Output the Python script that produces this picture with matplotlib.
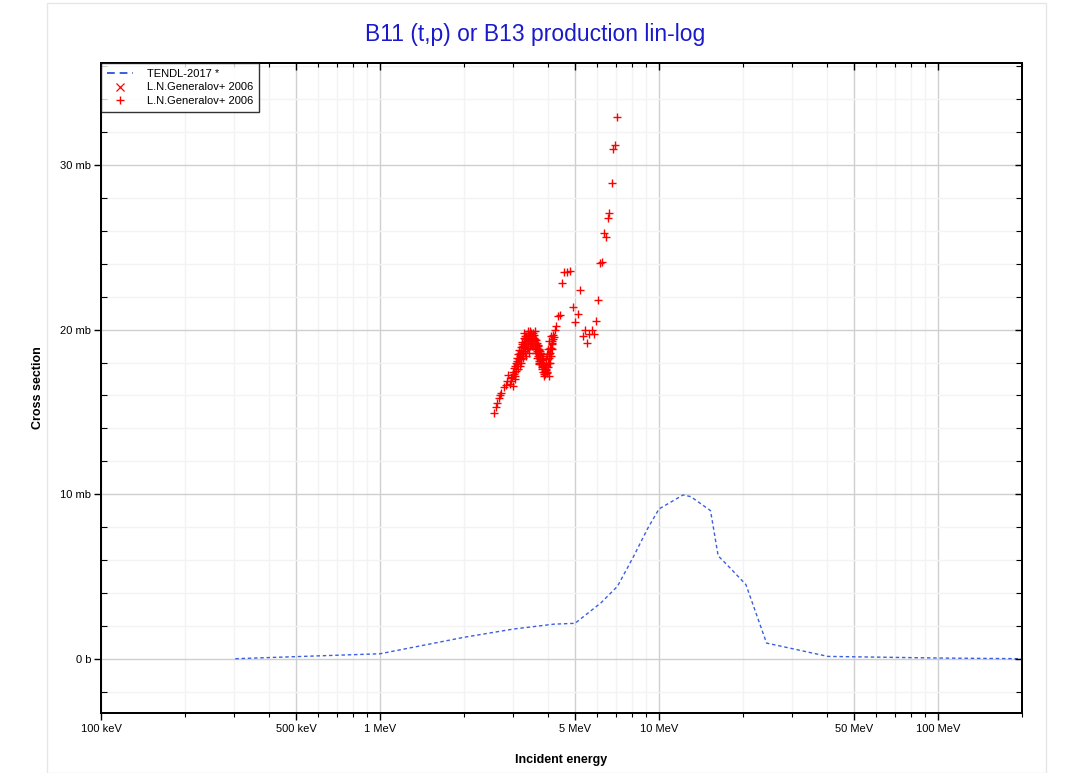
import matplotlib
matplotlib.use("Agg")
import matplotlib.pyplot as plt
from matplotlib.ticker import FixedLocator, FixedFormatter, NullFormatter
from matplotlib.patches import Rectangle

plt.rcParams['font.family'] = ['Liberation Sans', 'DejaVu Sans']

# TENDL-2017 evaluation (energy in MeV, cross section in mb)
tendl_e = [0.303, 1.0, 2.0, 3.0, 4.2, 5.0, 6.2, 7.1, 8.1, 9.1, 10.0, 12.2, 13.0,
           15.3, 16.3, 17.9, 20.5, 24.3, 26.7, 40.3, 102.0, 200.0]
tendl_xs = [0.0, 0.3, 1.3, 1.8, 2.1, 2.15, 3.4, 4.4, 6.2, 7.9, 9.1, 9.95, 9.85,
            9.0, 6.25, 5.55, 4.5, 0.95, 0.8, 0.14, 0.04, 0.0]

# L.N.Generalov+ 2006, "x" set (not visible in this view)
gen_x_e = []
gen_x_xs = []

# L.N.Generalov+ 2006, "+" set
gen_p_e = [2.56, 2.60, 2.62, 2.67, 2.70, 2.72, 2.78, 2.82, 2.85, 2.88, 2.94, 2.98,
           3.00, 3.02, 3.05, 3.07, 3.09, 3.11, 3.13, 3.15, 3.17, 3.20, 3.22, 3.24,
           3.26, 3.28, 3.30, 3.33, 3.38, 3.42, 3.47, 3.50, 3.53, 3.57, 3.60, 3.62,
           3.65, 3.67, 3.70, 3.72, 3.75, 3.77, 3.80, 3.82, 3.85, 3.87, 3.90, 3.93,
           3.96, 3.98, 4.00, 4.02, 4.04, 4.07, 4.09, 4.12, 4.15, 4.18, 4.21, 4.23,
           4.27,
           3.10, 3.14, 3.18, 3.25, 3.30, 3.35, 3.40, 3.45, 3.55, 3.58, 3.62, 3.68,
           3.72, 3.78, 3.82, 3.88, 3.92, 3.95, 3.97, 4.00, 4.05, 4.10, 3.20, 3.36,
           3.50, 3.64, 3.70, 3.85, 4.02, 3.05, 2.92, 3.28, 3.44, 3.58,
           3.03, 3.08, 3.12, 3.16, 3.19, 3.23, 3.27, 3.31, 3.34, 3.37, 3.41, 3.46,
           3.52, 3.56, 3.61, 3.66, 3.71, 3.76, 3.79, 3.84, 3.89, 3.94, 3.99, 4.03,
           4.08, 4.13, 4.17, 3.39, 3.48, 3.54, 3.63, 3.74, 2.96, 2.99, 3.32, 3.43,
           3.21, 3.26, 3.32, 3.38, 3.44, 3.49, 3.12, 3.17, 3.06, 3.60, 3.66, 3.73,
           3.80, 3.86, 3.91, 3.69, 3.76, 3.83, 4.06, 4.11, 4.15, 3.35, 3.41, 3.52,
           4.33, 4.41, 4.48, 4.57, 4.67, 4.80, 4.92, 5.01, 5.11, 5.22, 5.32, 5.42,
           5.51, 5.62, 5.73, 5.83, 5.94, 6.04, 6.14, 6.24, 6.33, 6.45, 6.54, 6.64,
           6.76, 6.85, 6.97, 7.07]
gen_p_xs = [14.95, 15.30, 15.53, 15.83, 16.00, 16.17, 16.50, 16.64, 16.90, 17.24, 17.04, 17.14,
            17.40, 17.65, 17.80, 17.95, 18.10, 18.26, 18.50, 18.76, 18.60, 18.96, 19.10, 19.27,
            19.00, 19.47, 19.20, 19.60, 19.67, 19.50, 19.78, 19.60, 19.80, 19.67, 19.40, 19.37,
            19.20, 19.07, 18.80, 18.76, 18.50, 18.56, 18.30, 18.15, 18.00, 17.85, 17.70, 17.55,
            17.40, 17.35, 17.70, 18.00, 18.30, 18.60, 18.90, 19.10, 19.17, 19.40, 19.57, 19.98,
            20.22,
            17.90, 18.20, 18.40, 18.70, 18.90, 19.30, 19.90, 19.30, 19.20, 18.90, 18.60, 18.40,
            18.10, 17.90, 17.60, 17.30, 17.90, 18.20, 18.50, 18.80, 19.30, 19.60, 18.20, 18.80,
            19.00, 18.90, 17.90, 17.40, 17.20, 17.20, 16.70, 19.80, 19.90, 19.90,
            17.30, 17.50, 18.00, 18.30, 18.70, 18.50, 18.90, 19.60, 19.10, 19.50, 19.60, 19.60,
            19.40, 19.50, 19.10, 18.70, 18.50, 18.20, 18.00, 17.80, 17.50, 17.60, 18.00, 18.50,
            18.90, 19.30, 19.70, 19.20, 19.30, 19.00, 18.60, 18.30, 16.90, 16.60, 19.40, 19.70,
            18.00, 18.30, 18.60, 18.90, 19.00, 19.10, 17.60, 17.80, 17.00, 18.80, 18.30, 18.00,
            17.70, 17.20, 17.30, 19.00, 18.70, 18.40, 18.00, 18.40, 18.80, 18.40, 18.60, 19.30,
            20.83, 20.90, 22.81, 23.48, 23.48, 23.58, 21.39, 20.48, 20.93, 22.39, 19.61, 19.99,
            19.20, 19.71, 19.99, 19.73, 20.52, 21.80, 24.03, 24.09, 25.88, 25.60, 26.78, 27.10,
            28.90, 30.97, 31.21, 32.89]

x_major = [0.1, 0.5, 1, 5, 10, 50, 100]
x_labels = ["100 keV", "500 keV", "1 MeV", "5 MeV", "10 MeV", "50 MeV", "100 MeV"]
x_minor = [0.2, 0.3, 0.4, 0.6, 0.7, 0.8, 0.9, 2, 3, 4, 6, 7, 8, 9,
           20, 30, 40, 60, 70, 80, 90, 200]
y_major = [0, 10, 20, 30]
y_labels = ["0 b", "10 mb", "20 mb", "30 mb"]
y_minor = [-2, 2, 4, 6, 8, 12, 14, 16, 18, 22, 24, 26, 28, 32, 34, 36]

xlim = (0.1, 200)
ylim = (-3.3, 36.2)

fig = plt.figure(figsize=(10.71, 7.73), dpi=100)
ax = fig.add_axes([0.0943, 0.0776, 0.8599, 0.8409])

fig.patches.append(Rectangle((47 / 1071, 0.0), 999 / 1071, 1 - 3 / 773,
                             transform=fig.transFigure, fill=False,
                             edgecolor="#e6e6e6", linewidth=1))

ax.plot(tendl_e, tendl_xs, linestyle=(0, (2.5, 2)), color="#3a5fe0", lw=1,
        label="TENDL-2017 *")
ax.plot(gen_x_e, gen_x_xs, linestyle="none", marker="x", color="red", ms=6,
        mew=0.9, label="L.N.Generalov+ 2006")
ax.plot(gen_p_e, gen_p_xs, linestyle="none", marker="+", color="red", ms=5.5,
        mew=1.0, label="L.N.Generalov+ 2006")

ax.set_xscale("log")
ax.set_xlim(*xlim)
ax.set_ylim(*ylim)

ax.xaxis.set_major_locator(FixedLocator(x_major))
ax.xaxis.set_major_formatter(FixedFormatter(x_labels))
ax.xaxis.set_minor_locator(FixedLocator(x_minor))
ax.xaxis.set_minor_formatter(NullFormatter())
ax.yaxis.set_major_locator(FixedLocator(y_major))
ax.yaxis.set_major_formatter(FixedFormatter(y_labels))
ax.yaxis.set_minor_locator(FixedLocator(y_minor))

ax.grid(which="major", color="#cfcfcf", lw=1)
ax.grid(which="minor", color="#f3f3f3", lw=1)
ax.set_axisbelow(True)

# bottom / left ticks
ax.tick_params(axis="x", which="major", direction="out", length=5, width=1,
               labelsize=8, pad=3)
ax.tick_params(axis="x", which="minor", direction="out", length=3, width=0.8)
ax.tick_params(axis="y", which="major", direction="out", length=5, width=1,
               labelsize=8, pad=2)
ax.tick_params(axis="y", which="minor", direction="in", length=4, width=0.8)

# top / right ticks point inward
ax_top = ax.twiny()
ax_top.set_xscale("log")
ax_top.set_xlim(*xlim)
ax_top.xaxis.set_major_locator(FixedLocator(x_major))
ax_top.xaxis.set_minor_locator(FixedLocator(x_minor))
ax_top.xaxis.set_major_formatter(NullFormatter())
ax_top.xaxis.set_minor_formatter(NullFormatter())
ax_top.tick_params(which="major", direction="in", length=5, width=1)
ax_top.tick_params(which="minor", direction="in", length=3, width=0.8)

ax_right = ax.twinx()
ax_right.set_ylim(*ylim)
ax_right.yaxis.set_major_locator(FixedLocator(y_major))
ax_right.yaxis.set_minor_locator(FixedLocator(y_minor))
ax_right.yaxis.set_major_formatter(NullFormatter())
ax_right.tick_params(which="major", direction="in", length=5, width=1)
ax_right.tick_params(which="minor", direction="in", length=4, width=0.8)

for a in (ax, ax_top, ax_right):
    for s in a.spines.values():
        s.set_linewidth(1.2)

ax.set_xlabel("Incident energy", fontsize=9, fontweight="bold", labelpad=14)
ax.set_ylabel("Cross section", fontsize=9, fontweight="bold", labelpad=12)
fig.text(0.5, 1 - 35 / 773, "B11 (t,p) or B13 production lin-log",
         color="#1a1acc", fontsize=16.5, ha="center", va="center")

leg = ax_right.legend(*ax.get_legend_handles_labels(), loc="upper left",
                      fontsize=8, frameon=True, fancybox=False,
                      borderaxespad=0, handlelength=2.35, borderpad=0.5,
                      labelspacing=0.35, handletextpad=1.3)
leg.get_frame().set_edgecolor("black")
leg.get_frame().set_linewidth(1)
leg.get_lines()[0].set_linestyle((0, (4, 2.5)))
leg.get_lines()[0].set_linewidth(1.4)

fig.savefig("out.png", dpi=100)
